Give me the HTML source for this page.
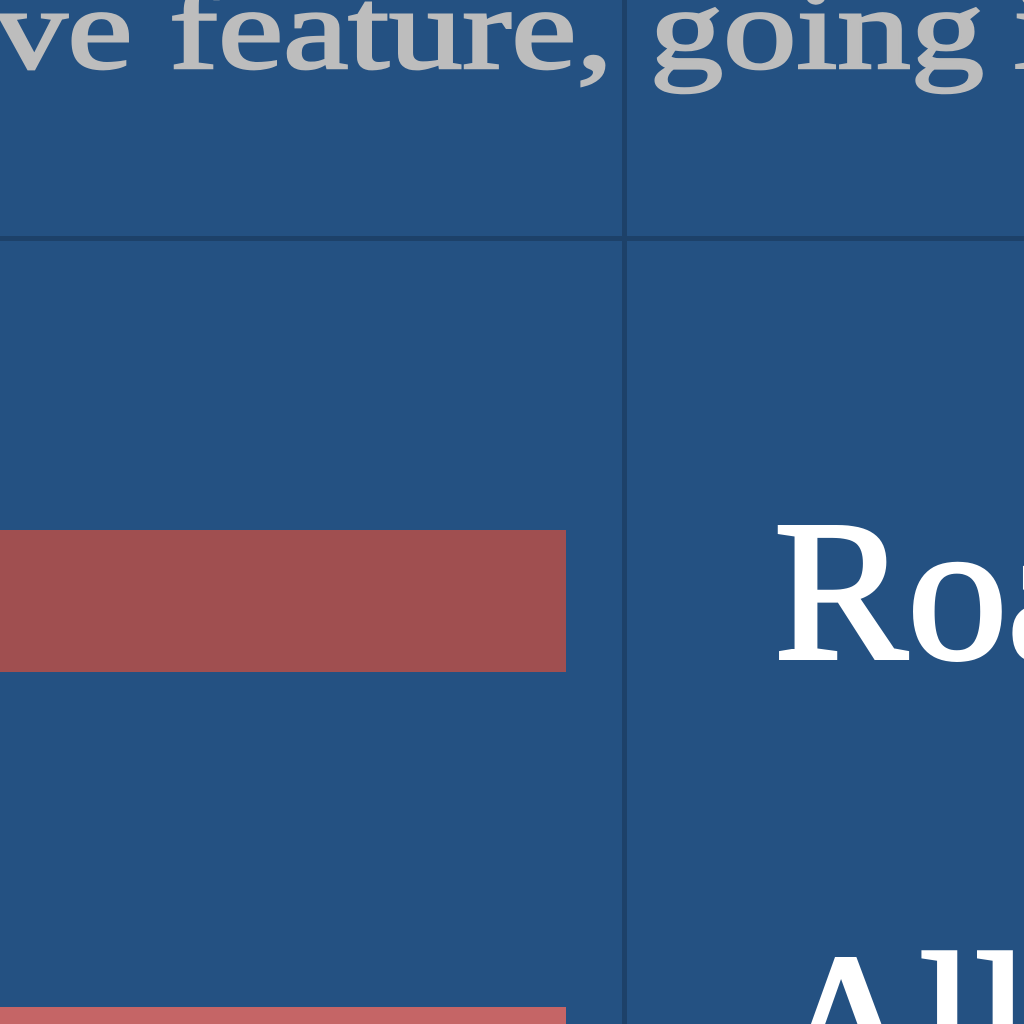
<!DOCTYPE html>
<html><head><meta charset="utf-8"><style>
html,body{margin:0;padding:0;background:#245182;overflow:hidden;width:1024px;height:1024px}
svg{display:block}
</style></head><body>
<svg id="chart" width="1024" height="1024" viewBox="0 0 1024 1024" xmlns="http://www.w3.org/2000/svg" overflow="hidden">
<rect x="0" y="0" width="1024" height="1024" fill="#245182"/>
<text x="-6" y="68" font-family="'Liberation Serif', serif" font-size="116" fill="#bdbdbd" stroke="#bdbdbd" stroke-width="2.5" textLength="990" lengthAdjust="spacingAndGlyphs">ve feature, going</text>
<text x="1014" y="68" font-family="'Liberation Serif', serif" font-size="116" fill="#bdbdbd" stroke="#bdbdbd" stroke-width="2.5">i</text>
<rect x="0" y="236" width="1024" height="5" fill="#1d4169"/>
<rect x="622" y="0" width="5" height="1024" fill="#1d4169"/>
<g id="bars"></g>
<g id="labels"></g>
</svg>
<script>
const categories = ["Road", "All"];
const values = [72, 72];
const barColors = ["#a04f50", "#c56566"];
function xScale(v){ return v / 72 * 566; }
function yScale(i){ return 530 + i * 477; }
const barH = 142;
const ns = "http://www.w3.org/2000/svg";
const bars = document.getElementById("bars");
const labels = document.getElementById("labels");
categories.forEach((c, i) => {
  const r = document.createElementNS(ns, "rect");
  r.setAttribute("x", 0);
  r.setAttribute("y", yScale(i));
  r.setAttribute("width", xScale(values[i]));
  r.setAttribute("height", Math.min(barH, 1024 - yScale(i)));
  r.setAttribute("fill", barColors[i]);
  
  
  bars.appendChild(r);
  const t = document.createElementNS(ns, "text");
  t.setAttribute("x", i === 0 ? 774 : 775);
  t.setAttribute("y", i === 0 ? yScale(i) + 128 : yScale(i) + 84);
  t.setAttribute("font-family", "'Liberation Serif', serif");
  t.setAttribute("font-size", "200");
  t.setAttribute("fill", "#ffffff");
  t.setAttribute("stroke", "#ffffff");
  t.setAttribute("stroke-width", "4");
  t.textContent = c;
  
  
  labels.appendChild(t);
});
</script>
</body></html>
